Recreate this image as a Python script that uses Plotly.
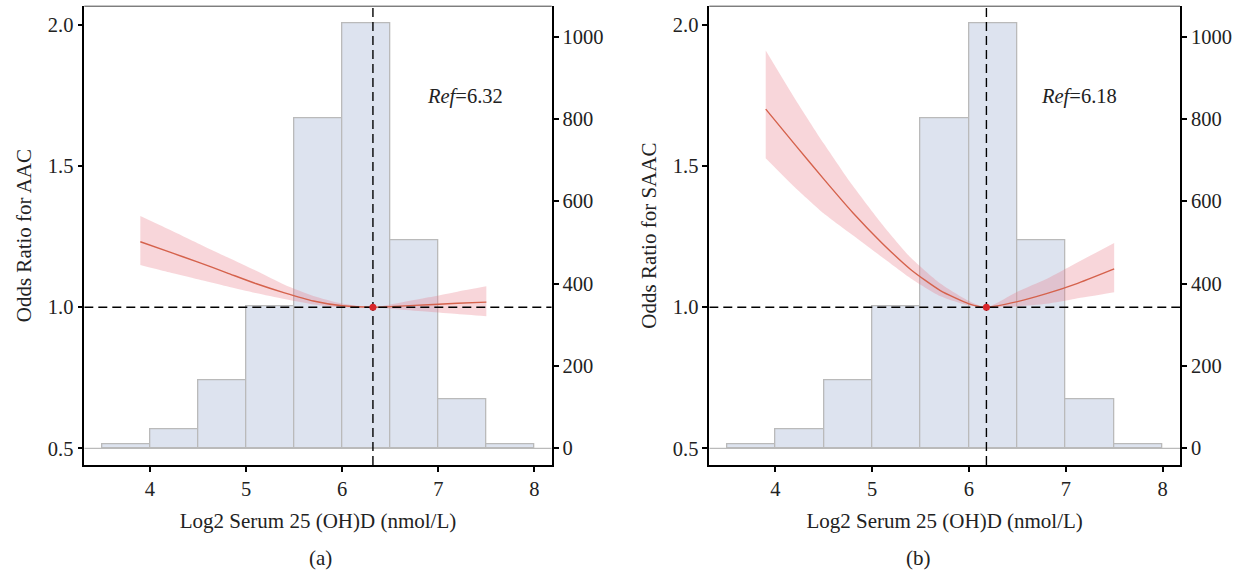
import plotly.graph_objects as go

# ---------------- data ----------------
bin_left = [3.5, 4.0, 4.5, 5.0, 5.5, 6.0, 6.5, 7.0, 7.5]
bin_width = 0.5
counts = [10, 46, 166, 345, 801, 1032, 505, 120, 10]

# Panel (a): AAC
ref_a = 6.32
x_a = [3.9, 4.2, 4.5, 4.8, 5.1, 5.4, 5.7, 6.0, 6.32, 6.6, 6.9, 7.2, 7.5]
or_a = [1.232, 1.196, 1.160, 1.122, 1.084, 1.051, 1.022, 1.005, 1.000, 1.004, 1.009, 1.014, 1.018]
hi_a = [1.323, 1.275, 1.226, 1.178, 1.130, 1.080, 1.040, 1.013, 1.000, 1.016, 1.035, 1.055, 1.074]
lo_a = [1.150, 1.124, 1.099, 1.074, 1.050, 1.029, 1.010, 0.999, 1.000, 0.992, 0.984, 0.976, 0.968]

# Panel (b): SAAC
ref_b = 6.18
x_b = [3.9, 4.2, 4.5, 4.8, 5.1, 5.4, 5.7, 6.0, 6.18, 6.5, 6.8, 7.1, 7.5]
or_b = [1.702, 1.577, 1.454, 1.335, 1.228, 1.133, 1.060, 1.012, 1.000, 1.020, 1.048, 1.082, 1.136]
hi_b = [1.910, 1.740, 1.580, 1.430, 1.295, 1.175, 1.085, 1.022, 1.000, 1.055, 1.100, 1.155, 1.228]
lo_b = [1.528, 1.425, 1.332, 1.255, 1.178, 1.102, 1.040, 1.006, 1.000, 1.003, 1.012, 1.030, 1.053]

x_title = "Log2 Serum 25 (OH)D (nmol/L)"
y_titles = ["Odds Ratio for AAC", "Odds Ratio for SAAC"]
panel_labels = ["(a)", "(b)"]
x_ticks = [4, 5, 6, 7, 8]
or_ticks = [0.5, 1.0, 1.5, 2.0]
count_ticks = [0, 200, 400, 600, 800, 1000]

# ---------------- style ----------------
FONT = "Liberation Serif"
TXT = "#222222"
BAR_FILL = "#dde3ef"
BAR_LINE = "#bababa"
LINE_COL = "#d5624c"
BAND_COL = "rgba(232,120,132,0.30)"
DOT_COL = "#d7262b"
X_RANGE = [3.317, 8.18]
OR_RANGE = [0.441, 2.0666]
CNT_RANGE = [-40.6, 1074]

fig = go.Figure()

panels = [
    dict(x=x_a, y=or_a, hi=hi_a, lo=lo_a, ref=ref_a, xa="x", cnt="y", orax="y2"),
    dict(x=x_b, y=or_b, hi=hi_b, lo=lo_b, ref=ref_b, xa="x2", cnt="y3", orax="y4"),
]

centers = [l + bin_width / 2 for l in bin_left]

for p in panels:
    # histogram baseline
    fig.add_trace(go.Scatter(x=X_RANGE, y=[0, 0], xaxis=p["xa"], yaxis=p["cnt"], mode="lines",
                             line=dict(color=BAR_LINE, width=1.3), hoverinfo="skip", showlegend=False))
    fig.add_trace(go.Bar(x=centers, y=counts, width=[bin_width] * len(centers),
                         xaxis=p["xa"], yaxis=p["cnt"],
                         marker=dict(color=BAR_FILL, line=dict(color=BAR_LINE, width=1.3)),
                         showlegend=False))
    # CI band
    fig.add_trace(go.Scatter(x=p["x"], y=p["hi"], xaxis=p["xa"], yaxis=p["orax"], mode="lines",
                             line=dict(width=0, shape="spline", smoothing=0.6),
                             showlegend=False, hoverinfo="skip"))
    fig.add_trace(go.Scatter(x=p["x"], y=p["lo"], xaxis=p["xa"], yaxis=p["orax"], mode="lines",
                             line=dict(width=0, shape="spline", smoothing=0.6),
                             fill="tonexty", fillcolor=BAND_COL,
                             showlegend=False, hoverinfo="skip"))
    fig.add_trace(go.Scatter(x=p["x"], y=p["y"], xaxis=p["xa"], yaxis=p["orax"], mode="lines",
                             line=dict(color=LINE_COL, width=1.4, shape="spline", smoothing=0.6),
                             showlegend=False))
    # reference lines
    fig.add_trace(go.Scatter(x=X_RANGE, y=[1.0, 1.0], xaxis=p["xa"], yaxis=p["orax"], mode="lines",
                             line=dict(color="black", width=1.4, dash="9px,5px"),
                             showlegend=False, hoverinfo="skip"))
    fig.add_trace(go.Scatter(x=[p["ref"], p["ref"]], y=OR_RANGE, xaxis=p["xa"], yaxis=p["orax"],
                             mode="lines", line=dict(color="black", width=1.4, dash="9px,5px"),
                             showlegend=False, hoverinfo="skip"))
    fig.add_trace(go.Scatter(x=[p["ref"]], y=[1.0], xaxis=p["xa"], yaxis=p["orax"], mode="markers",
                             marker=dict(color=DOT_COL, size=7), showlegend=False))

x_domains = [[0.06766, 0.44278], [0.56926, 0.94703]]
y_domain = [0.1913, 0.98922]

axis_common = dict(showline=True, linecolor="black", linewidth=1.6, ticks="outside",
                   ticklen=5, tickwidth=1.6, tickcolor="black", showgrid=False, zeroline=False,
                   tickfont=dict(family=FONT, size=20.5, color=TXT))

for i, (xa, cnt, orax) in enumerate([("xaxis", "yaxis", "yaxis2"), ("xaxis2", "yaxis3", "yaxis4")]):
    xid = "x" if i == 0 else "x2"
    cid = "y" if i == 0 else "y3"
    fig.update_layout(**{
        xa: dict(domain=x_domains[i], range=X_RANGE, anchor=cid, tickvals=x_ticks,
                 title=dict(text=x_title, font=dict(family=FONT, size=21, color=TXT), standoff=14),
                 **axis_common),
        cnt: dict(domain=y_domain, range=CNT_RANGE, anchor=xid, side="right", tickvals=count_ticks,
                  **axis_common),
        orax: dict(range=OR_RANGE, anchor=xid, overlaying=cid, side="left", tickvals=or_ticks,
                   ticktext=[f"{v:.1f}" for v in or_ticks],
                   title=dict(text=y_titles[i], font=dict(family=FONT, size=21, color=TXT), standoff=10),
                   **axis_common),
    })
    # thin top border
    fig.add_shape(type="line", xref=f"{xid} domain", yref=f"{cid} domain", x0=0, x1=1, y0=1, y1=1,
                  line=dict(color="#444444", width=1))
    p = panels[i]
    fig.add_annotation(x=p["ref"] + 0.54, y=1.745, xref=xid, yref="y2" if i == 0 else "y4",
                       text=f"<i>Ref</i>={p['ref']:.2f}", showarrow=False, xanchor="left",
                       font=dict(family=FONT, size=20.5, color=TXT))
    fig.add_annotation(x=(x_domains[i][0] + x_domains[i][1]) / 2 - 0.009, y=1 - 558 / 575,
                       xref="paper", yref="paper", yanchor="middle", text=panel_labels[i],
                       showarrow=False, font=dict(family=FONT, size=21, color=TXT))

fig.update_layout(width=1246, height=575, margin=dict(l=0, r=0, t=0, b=0),
                  paper_bgcolor="white", plot_bgcolor="white", bargap=0, showlegend=False)

fig.write_html("out.html", config={"displayModeBar": False},
               post_script="document.body.style.margin='0';document.body.style.overflow='hidden';")
